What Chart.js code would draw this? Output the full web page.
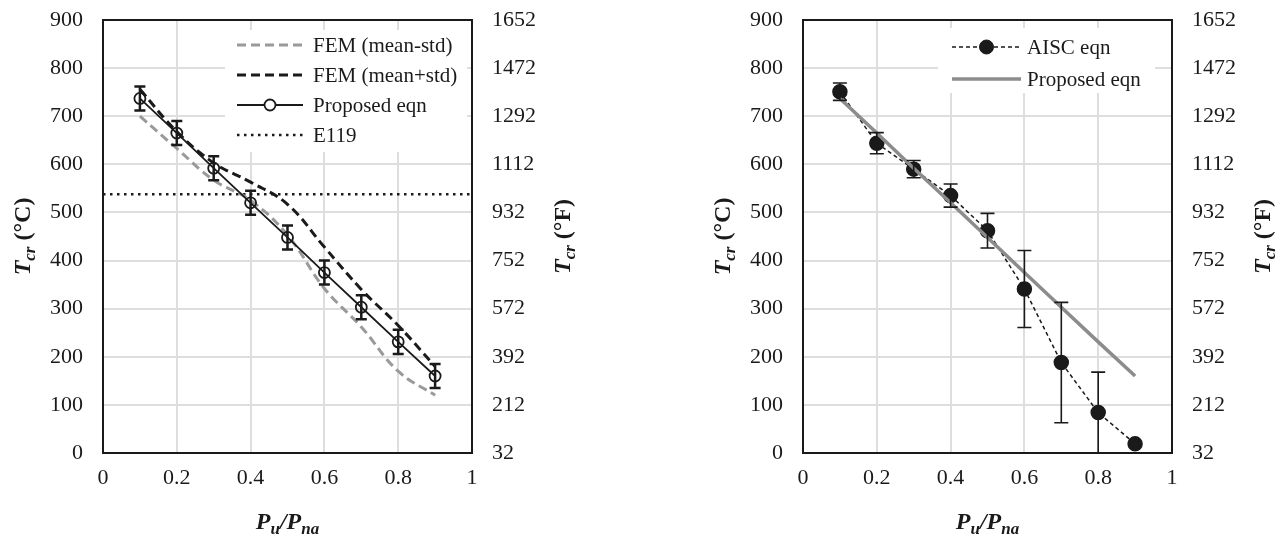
<!DOCTYPE html>
<html>
<head>
<meta charset="utf-8">
<script src="https://cdn.jsdelivr.net/npm/chart.js@4.4.1/dist/chart.umd.min.js"></script>
<style>
  html, body { margin: 0; padding: 0; background: #fff; }
  .wrap { position: relative; width: 1283px; height: 540px; }
  .panel { position: absolute; top: 0; width: 580px; height: 540px; }
  #left { left: 0; }
  #right { left: 700px; }
</style>
</head>
<body>
<div class="wrap">
  <div class="panel" id="left"><canvas id="chartLeft" width="580" height="540"></canvas></div>
  <div class="panel" id="right"><canvas id="chartRight" width="580" height="540"></canvas></div>
</div>
<script>
// load ratio Pu/Pna
const loadRatio = [0.1, 0.2, 0.3, 0.4, 0.5, 0.6, 0.7, 0.8, 0.9];

// left panel (degC)
const femLowC = [700, 633, 567, 525, 453, 342, 262, 170, 120];
const femHighC = [756, 668, 603, 563, 517, 428, 340, 265, 180];
const proposedC = [737, 665, 592, 520, 448, 375, 303, 231, 160];
const proposedErr = [25, 25, 25, 25, 25, 25, 25, 25, 25];
const e119C = 538;

// right panel (degC)
const aiscC = [751, 644, 590, 535, 462, 341, 188, 84, 19];
const aiscErr = [18, 22, 18, 24, 36, 80, 125, 84, 0];

// tick labels
const xTicks = [0, 0.2, 0.4, 0.6, 0.8, 1];
const cTicks = [0, 100, 200, 300, 400, 500, 600, 700, 800, 900];
const fTicks = [32, 212, 392, 572, 752, 932, 1112, 1292, 1472, 1652];

const SERIF = '"Liberation Serif", "Times New Roman", serif';
const INK = '#1a1a1a';

function pts(ys) {
  return loadRatio.map((x, i) => ({ x, y: ys[i] }));
}

const errorBars = {
  id: 'errorBars',
  afterDatasetsDraw(chart) {
    const { ctx, scales: { x, y } } = chart;
    chart.data.datasets.forEach((ds) => {
      if (!ds.errors) return;
      ctx.save();
      ctx.strokeStyle = INK;
      ctx.lineWidth = ds.errorWidth;
      ds.data.forEach((p, j) => {
        const e = ds.errors[j];
        if (!e) return;
        const px = x.getPixelForValue(p.x);
        const top = y.getPixelForValue(p.y + e);
        const bot = y.getPixelForValue(Math.max(p.y - e, y.min));
        const c = ds.errorCap / 2;
        ctx.beginPath();
        ctx.moveTo(px, top); ctx.lineTo(px, bot);
        ctx.moveTo(px - c, top); ctx.lineTo(px + c, top);
        ctx.moveTo(px - c, bot); ctx.lineTo(px + c, bot);
        ctx.stroke();
      });
      ctx.restore();
    });
  }
};

const frame = {
  id: 'frame',
  afterDatasetsDraw(chart) {
    const { ctx, chartArea: a } = chart;
    ctx.save();
    ctx.strokeStyle = INK;
    ctx.lineWidth = 2;
    ctx.strokeRect(a.left, a.top, a.right - a.left, a.bottom - a.top);
    ctx.restore();
  }
};

function drawParts(ctx, parts, cx, cy, rotate) {
  ctx.save();
  ctx.translate(cx, cy);
  if (rotate) ctx.rotate(-Math.PI / 2);
  let w = 0;
  parts.forEach((p) => { ctx.font = p.font; w += ctx.measureText(p.t).width; });
  let xPos = -w / 2;
  ctx.fillStyle = INK;
  ctx.textBaseline = 'alphabetic';
  parts.forEach((p) => {
    ctx.font = p.font;
    ctx.fillText(p.t, xPos, 8 + (p.dy || 0));
    xPos += ctx.measureText(p.t).width;
  });
  ctx.restore();
}

const BI = 'bold italic 24px ' + SERIF;
const BIS = 'bold italic 17px ' + SERIF;
const B = 'bold 24px ' + SERIF;
const xTitle = [{ t: 'P', font: BI }, { t: 'u', font: BIS, dy: 5 }, { t: '/P', font: BI }, { t: 'na', font: BIS, dy: 5 }];
const cTitle = [{ t: 'T', font: BI }, { t: 'cr', font: BIS, dy: 5 }, { t: ' (°C)', font: B }];
const fTitle = [{ t: 'T', font: BI }, { t: 'cr', font: BIS, dy: 5 }, { t: ' (°F)', font: B }];

const axisTitles = {
  id: 'axisTitles',
  afterDraw(chart) {
    const { ctx, chartArea: a } = chart;
    const midX = (a.left + a.right) / 2;
    const midY = (a.top + a.bottom) / 2;
    drawParts(ctx, xTitle, midX, 521, false);
    drawParts(ctx, cTitle, 22, midY, true);
    drawParts(ctx, fTitle, 562, midY, true);
  }
};

const boxLegend = {
  id: 'boxLegend',
  beforeDatasetsDraw(chart, args, opts) {
    const { ctx, chartArea: a } = chart;
    const b = opts.box;
    ctx.save();
    ctx.fillStyle = '#ffffff';
    ctx.fillRect(a.left + b.x, a.top + b.y, b.w, b.h);
    ctx.font = '21px ' + SERIF;
    ctx.textBaseline = 'middle';
    opts.items.forEach((it, i) => {
      const yy = a.top + opts.rows[i];
      const x0 = a.left + opts.sample[0];
      const x1 = a.left + opts.sample[1];
      ctx.strokeStyle = it.color;
      ctx.lineWidth = it.width;
      ctx.setLineDash(it.dash || []);
      ctx.beginPath();
      ctx.moveTo(x0, yy); ctx.lineTo(x1, yy);
      ctx.stroke();
      ctx.setLineDash([]);
      if (it.marker) {
        ctx.beginPath();
        ctx.arc((x0 + x1) / 2, yy, it.marker.r, 0, Math.PI * 2);
        ctx.fillStyle = it.marker.fill;
        ctx.fill();
        ctx.lineWidth = it.marker.lw;
        ctx.strokeStyle = INK;
        ctx.stroke();
      }
      ctx.fillStyle = INK;
      ctx.fillText(it.label, a.left + opts.text, yy + 1);
    });
    ctx.restore();
  }
};

function setTicks(values) {
  return (scale) => { scale.ticks = values.map((v) => ({ value: v })); };
}

function fixWidth(w) {
  return (s) => { s.width = w; s.paddingTop = 0; s.paddingBottom = 0; };
}

function baseScales() {
  const tickFont = { family: SERIF, size: 22 };
  return {
    x: {
      type: 'linear', min: 0, max: 1,
      afterBuildTicks: setTicks(xTicks),
      afterFit: (s) => { s.height = 87; s.paddingLeft = 0; s.paddingRight = 0; },
      ticks: { font: tickFont, color: INK, padding: 12, callback: (v) => String(v) },
      grid: { color: '#dedede', lineWidth: 2, drawTicks: false },
      border: { display: false }
    },
    y: {
      position: 'left', min: 0, max: 900,
      afterBuildTicks: setTicks(cTicks),
      afterFit: fixWidth(103),
      ticks: { font: tickFont, color: INK, padding: 20, callback: (v) => String(v) },
      grid: { color: '#dedede', lineWidth: 2, drawTicks: false },
      border: { display: false }
    },
    y2: {
      position: 'right', min: 32, max: 1652,
      afterBuildTicks: setTicks(fTicks),
      afterFit: fixWidth(108),
      ticks: { font: tickFont, color: INK, padding: 20, callback: (v) => String(v) },
      grid: { display: false, drawTicks: false },
      border: { display: false }
    }
  };
}

function baseOptions(legendOpts) {
  return {
    responsive: false,
    animation: false,
    layout: { padding: { top: 20, left: 0, right: 0, bottom: 0 } },
    scales: baseScales(),
    plugins: {
      legend: { display: false },
      tooltip: { enabled: false },
      boxLegend: legendOpts
    }
  };
}

new Chart(document.getElementById('chartLeft'), {
  type: 'line',
  data: {
    datasets: [
      {
        label: 'Proposed eqn', data: pts(proposedC), borderColor: INK, borderWidth: 1.8,
        pointRadius: 5.5, pointBorderWidth: 1.8, pointBorderColor: INK,
        pointBackgroundColor: 'rgba(0,0,0,0)', tension: 0,
        errors: proposedErr, errorWidth: 2.5, errorCap: 11
      },
      {
        label: 'FEM (mean+std)', data: pts(femHighC), borderColor: INK, borderWidth: 3,
        borderDash: [9, 5], pointRadius: 0, tension: 0.4
      },
      {
        label: 'FEM (mean-std)', data: pts(femLowC), borderColor: '#9a9a9a', borderWidth: 3,
        borderDash: [9, 5], pointRadius: 0, tension: 0.4
      },
      {
        label: 'E119', data: [{ x: 0, y: e119C }, { x: 1, y: e119C }], borderColor: INK,
        borderWidth: 2.5, borderDash: [2.5, 4.5], pointRadius: 0
      }
    ]
  },
  options: baseOptions({
    box: { x: 122, y: 10, w: 242, h: 122 },
    rows: [25, 55, 85, 115],
    sample: [134, 200],
    text: 210,
    items: [
      { label: 'FEM (mean-std)', color: '#9a9a9a', width: 3, dash: [9, 5] },
      { label: 'FEM (mean+std)', color: INK, width: 3, dash: [9, 5] },
      { label: 'Proposed eqn', color: INK, width: 1.8, marker: { r: 5.5, fill: '#ffffff', lw: 1.8 } },
      { label: 'E119', color: INK, width: 2.5, dash: [2.5, 4.5] }
    ]
  }),
  plugins: [boxLegend, errorBars, frame, axisTitles]
});

new Chart(document.getElementById('chartRight'), {
  type: 'line',
  data: {
    datasets: [
      {
        label: 'Proposed eqn', data: pts(proposedC), borderColor: '#8c8c8c', borderWidth: 3.5,
        pointRadius: 0, tension: 0
      },
      {
        label: 'AISC eqn', data: pts(aiscC), borderColor: INK, borderWidth: 1.5,
        borderDash: [4, 3], pointRadius: 7, pointBorderColor: INK, pointBackgroundColor: INK,
        tension: 0, errors: aiscErr, errorWidth: 1.6, errorCap: 14
      }
    ]
  },
  options: baseOptions({
    box: { x: 135, y: 8, w: 217, h: 65 },
    rows: [27, 59],
    sample: [149, 218],
    text: 224,
    items: [
      { label: 'AISC eqn', color: INK, width: 1.5, dash: [4, 3], marker: { r: 7, fill: INK, lw: 1 } },
      { label: 'Proposed eqn', color: '#8c8c8c', width: 3.5 }
    ]
  }),
  plugins: [boxLegend, errorBars, frame, axisTitles]
});
</script>
</body>
</html>
